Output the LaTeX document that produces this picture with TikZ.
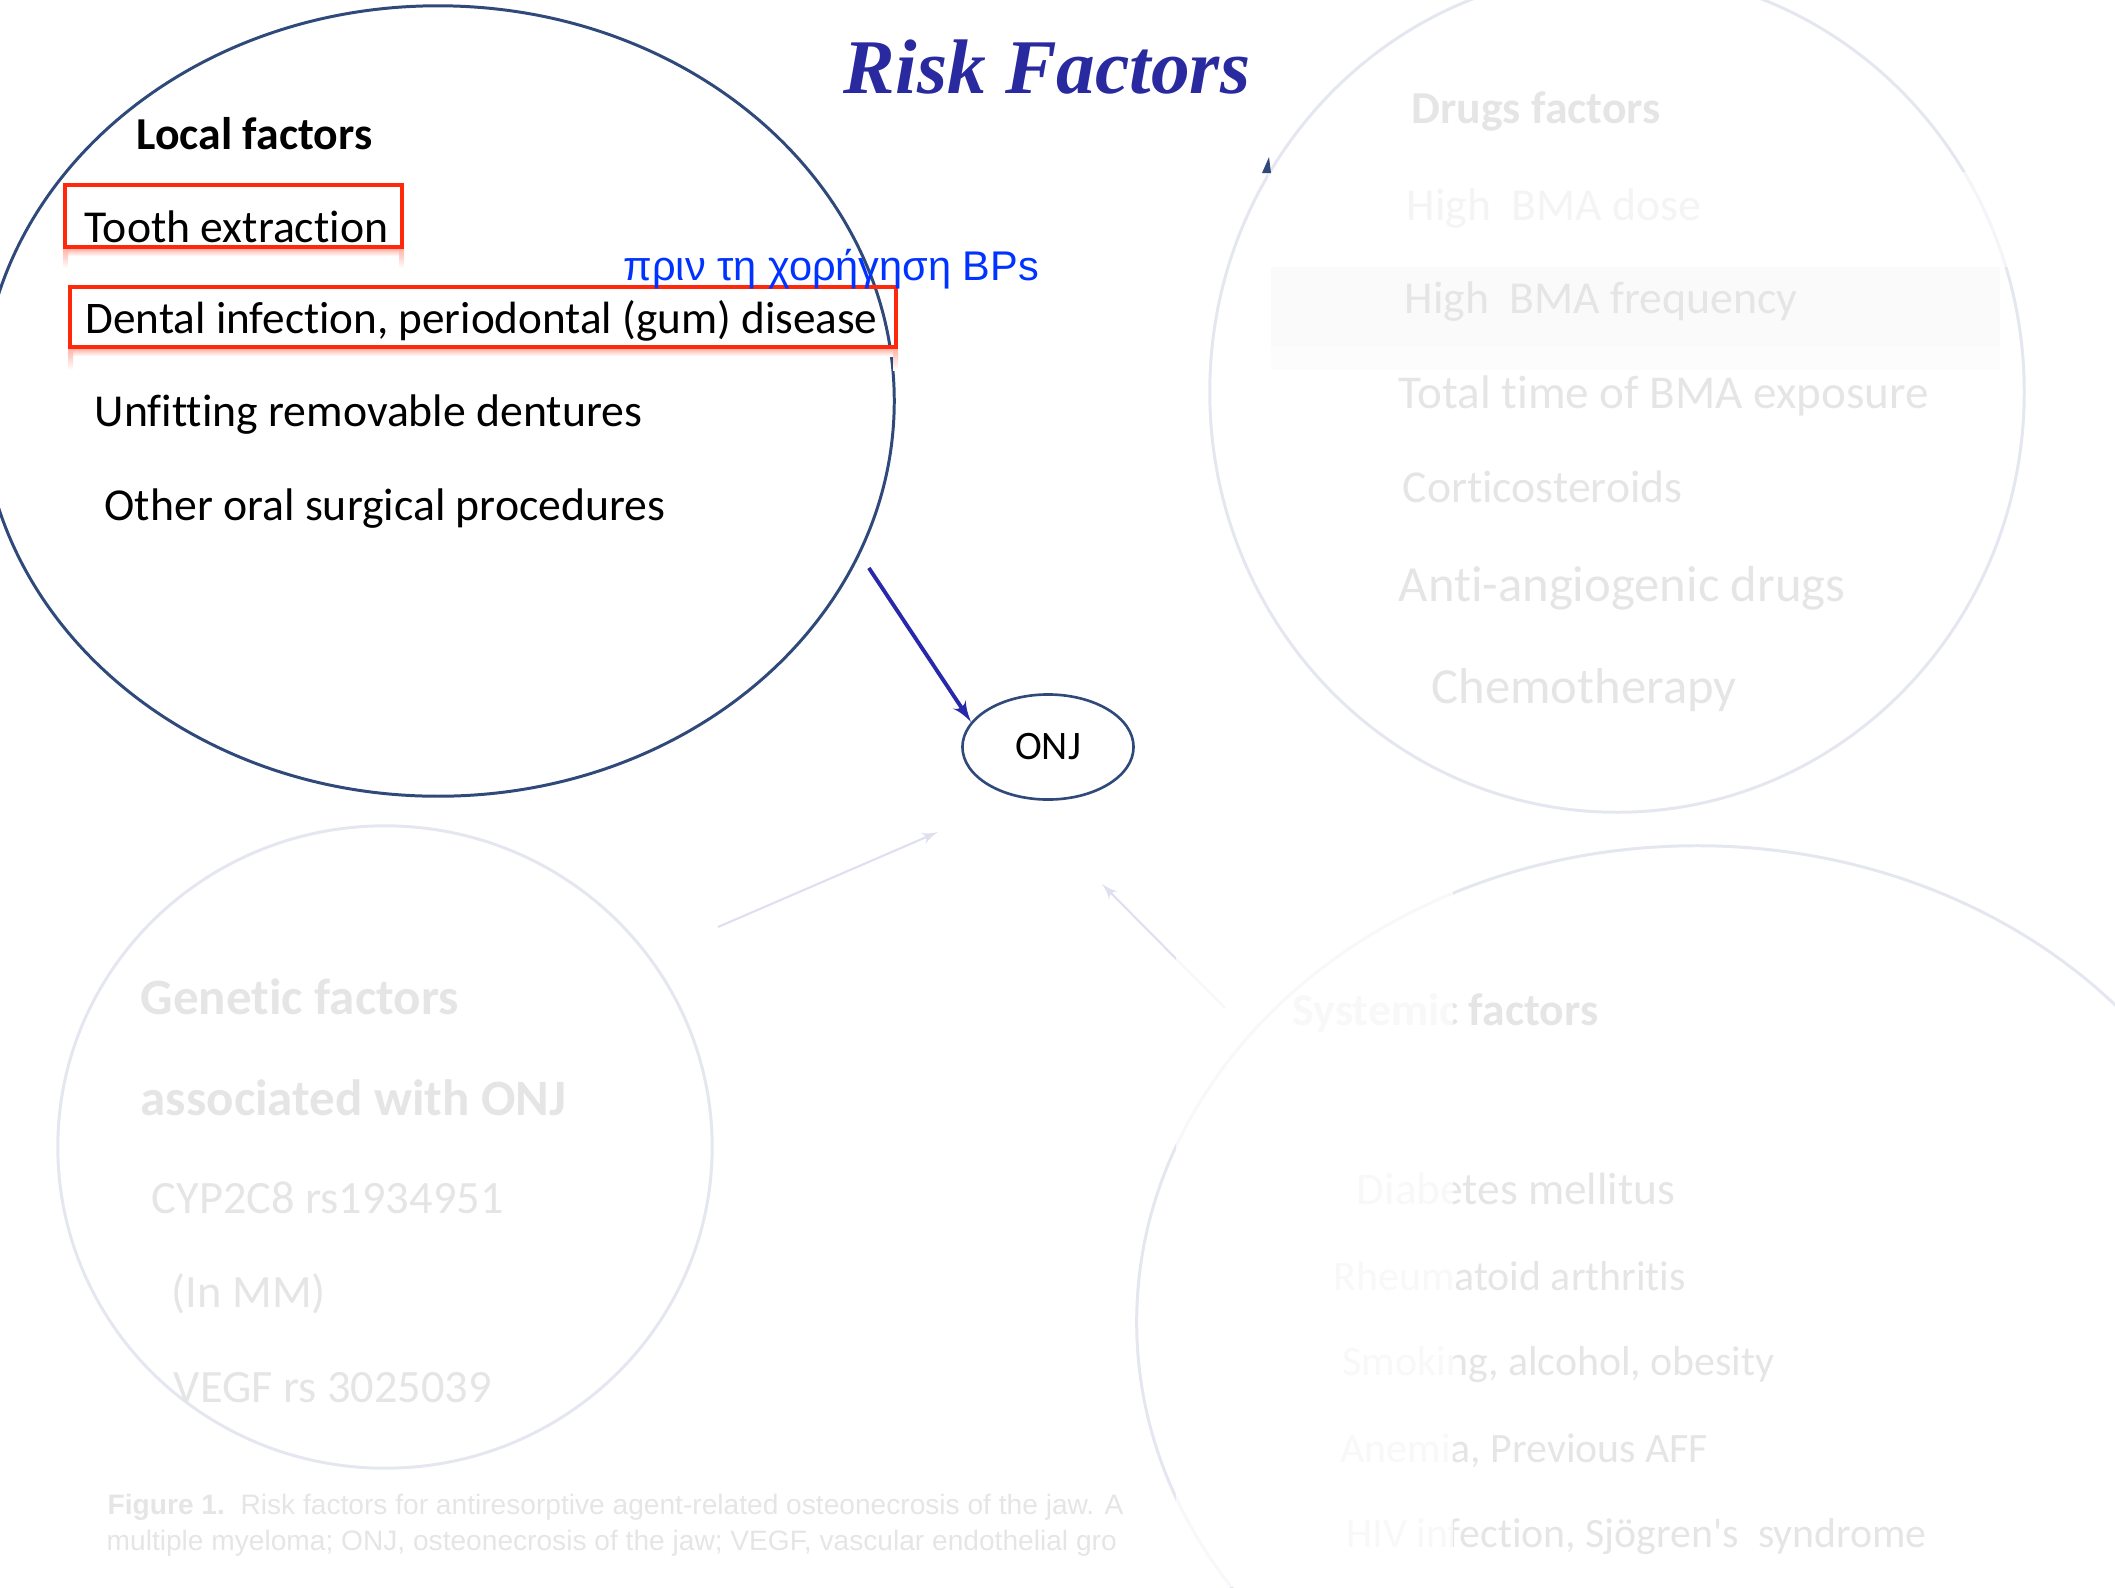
\documentclass[tikz,border=0pt]{standalone}
\usepackage{fontspec}
\setmainfont{Carlito}[Ligatures=NoCommon]
\newfontfamily\titlefont{Liberation Serif}
\newfontfamily\notefont{Liberation Sans}
\usetikzlibrary{arrows}
\usetikzlibrary{positioning}
\usetikzlibrary{shapes.geometric}

\definecolor{ringblue}{RGB}{47,74,122}
\definecolor{arrowblue}{RGB}{40,40,170}
\definecolor{titleblue}{RGB}{42,42,160}
\definecolor{noteblue}{RGB}{0,51,255}
\definecolor{boxred}{RGB}{255,40,10}
\definecolor{fadetext}{RGB}{229,229,229}
\definecolor{fadering}{RGB}{228,230,240}
\definecolor{fadearrow}{RGB}{222,224,240}

\tikzset{
    ring/.style={draw, ellipse, line width=0.85pt, inner sep=0pt},
    factor/.style={anchor=base west, inner sep=0pt, font=\fontsize{13}{15}\selectfont},
    factorhead/.style={factor, font=\fontsize{13}{15}\selectfont\bfseries},
    ghost/.style={text=fadetext},
    redbox/.style={draw=boxred, line width=1.2pt},
    glow/.style={top color=boxred!35, bottom color=white, draw=none},
    caption/.style={anchor=base west, inner sep=0pt, text=fadetext, font=\notefont\fontsize{8}{10}\selectfont}
}

\begin{document}
\begin{tikzpicture}[x=0.01cm,y=-0.01cm,>=latex']
    \useasboundingbox (0,0) rectangle (2115,1587);
    \clip (0,0) rectangle (2115,1587);

    % Faded rings and their lists
    \node [ring, draw=fadering, minimum width=8.14cm, minimum height=8.4cm] (Drugs) at (1617,392) {};
    \fill [gray!4] (1271,267) rectangle (2000,347);
    \fill [gray!2] (1271,347) rectangle (2000,370);
    \node [factorhead, ghost] (DrugsHead) at (1411,123) {Drugs factors};
    \node [factor, ghost] (Dose) at (1406,220) {High\ \ BMA dose};
    \node [factor, ghost] (Freq) at (1404,313) {High\ \ BMA frequency};
    \node [factor, ghost, font=\fontsize{13.4}{15}\selectfont] (Time) at (1398,408) {Total time of BMA\ exposure};
    \node [factor, ghost] (Cortico) at (1402,502) {Corticosteroids};
    \node [factor, ghost, font=\fontsize{14.4}{16}\selectfont] (Angio) at (1398,601) {Anti-angiogenic drugs};
    \node [factor, ghost, font=\fontsize{14.4}{16}\selectfont] (Chemo) at (1431,703) {Chemotherapy};
    \fill [white, opacity=0.6] (1268,172) rectangle (2030,267);
    \fill [ringblue] (1262,173) -- (1269,157) -- (1271,173) -- cycle;

    \node [ring, draw=fadering, minimum width=6.54cm, minimum height=6.42cm] (Genetic) at (385,1147) {};
    \node [factorhead, ghost, font=\fontsize{14.5}{17}\selectfont\bfseries] (GenHead) at (140,1014) {Genetic factors};
    \node [factorhead, ghost, font=\fontsize{14.5}{17}\selectfont\bfseries] (GenHeadB) at (140,1115) {associated with ONJ};
    \node [factor, ghost, font=\fontsize{13.2}{15}\selectfont] (Cyp) at (151,1213) {CYP2C8 rs1934951};
    \node [factor, ghost, font=\fontsize{13.2}{15}\selectfont] (InMM) at (171,1307) {(In MM)};
    \node [factor, ghost, font=\fontsize{13.2}{15}\selectfont] (Vegf) at (173,1402) {VEGF rs 3025039};

    \node [ring, draw=fadering, minimum width=11.2cm, minimum height=9.52cm] (Systemic) at (1697,1322) {};
    \node [factorhead, ghost] (SysHead) at (1292,1025) {Systemic factors};
    \node [factor, ghost, font=\fontsize{12.9}{15}\selectfont] (Diabetes) at (1356,1204) {Diabetes mellitus};
    \node [factor, ghost, font=\fontsize{11.9}{14}\selectfont] (Rheuma) at (1333,1290) {Rheumatoid arthritis};
    \node [factor, ghost, font=\fontsize{11.9}{14}\selectfont] (Smoking) at (1342,1375) {Smoking, alcohol, obesity};
    \node [factor, ghost, font=\fontsize{11.9}{14}\selectfont] (Anemia) at (1340,1462) {Anemia, Previous AFF};
    \node [factor, ghost, font=\fontsize{11.9}{14}\selectfont] (Hiv) at (1346,1547) {HIV infection, Sj\"ogren\textquotesingle s\ \ syndrome};

    % Faded arrows towards ONJ
    \coordinate (GenTail) at (718,927);
    \coordinate (GenTip) at (938,832);
    \coordinate (SysTail) at (1225,1008);
    \coordinate (SysTip) at (1102,884);
    \draw [->, fadearrow, line width=0.6pt] (GenTail) -- (GenTip);
    \draw [->, fadearrow, line width=0.6pt] (SysTail) -- (SysTip);
    \fill [white, opacity=0.75] (1176,880) rectangle (1453,1587);

    % Caption
    \begin{scope}
        \clip (0,1450) rectangle (1124,1587);
        \node [caption] (CapA) at (107,1514)
            {\textbf{Figure 1.}\ \ Risk factors for antiresorptive agent-related osteonecrosis of the jaw. A};
        \node [caption] (CapB) at (106,1550)
            {multiple myeloma; ONJ, osteonecrosis of the jaw; VEGF, vascular endothelial gro};
    \end{scope}

    % Local factors
    \node [ring, draw=ringblue, minimum width=9.12cm, minimum height=7.9cm] (Local) at (438,401) {};
    \node [factorhead] (LocalHead) at (136,149) {Local factors};
    \node [factor] (Tooth) at (84,242) {Tooth extraction};
    \node [factor, font=\fontsize{12.85}{15}\selectfont] (Dental) at (85,333) {Dental infection, periodontal (gum) disease};
    \node [factor] (Dentures) at (94,426) {Unfitting removable dentures};
    \node [factor] (Surgery) at (104,520) {Other oral surgical\ procedures};

    % Red boxes with their soft reflection
    \shade [glow] (65,249) rectangle (402,256);
    \shade [glow] (63,249) rectangle (68,268);
    \shade [glow] (399,249) rectangle (404,268);
    \shade [glow] (70,349) rectangle (896,356);
    \shade [glow] (68,349) rectangle (73,370);
    \shade [glow] (893,349) rectangle (898,370);
    \draw [redbox] (65,185) rectangle (402,247);
    \draw [redbox] (70,287) rectangle (896,347);

    \node [anchor=base west, inner sep=0pt, text=noteblue, font=\notefont\fontsize{11.8}{14}\selectfont] (Note) at (623,280) {πριν τη χορήγηση BPs};

    % Title
    \node [anchor=base, inner sep=0pt, text=titleblue, font=\titlefont\bfseries\itshape\fontsize{22}{26}\selectfont] (Title) at (1047,93) {Risk Factors};

    % ONJ and the main connection
    \node [draw=ringblue, ellipse, line width=0.75pt, minimum width=1.71cm, minimum height=1.05cm, font=\fontsize{11.5}{13}\selectfont] (ONJ) at (1048,747) {ONJ};
    \draw [->, arrowblue, line width=1.1pt, shorten <=0.16cm] (Local.-20) -- (ONJ.162);

\end{tikzpicture}
\end{document}
